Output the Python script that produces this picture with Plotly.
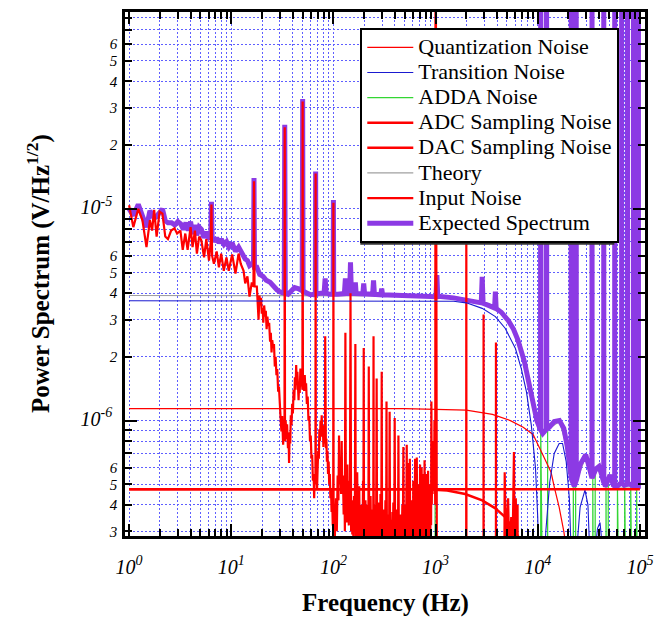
import plotly.graph_objects as go

FONT = "Liberation Serif"

# ---------------- data (frequency Hz, amplitude V/Hz^1/2) ----------------
quantization_noise = [(1, 1.14e-6), (500, 1.14e-6), (1000, 1.13e-6), (2000, 1.12e-6), (3600, 1.07e-6),
                      (5400, 1.0e-6), (7200, 9.3e-7), (9000, 8.6e-7), (1.17e4, 6.6e-7), (1.35e4, 5.7e-7),
                      (1.46e4, 4.8e-7), (1.62e4, 3.9e-7), (1.8e4, 3.0e-7), (2.0e4, 2.1e-7)]

transition_noise = [(1, 3.68e-6), (1500, 3.66e-6), (2000, 3.6e-6), (2860, 3.39e-6), (3850, 3.1e-6),
                    (4800, 2.73e-6), (6050, 2.19e-6), (6900, 1.76e-6), (7750, 1.37e-6), (8660, 9.5e-7),
                    (9500, 6.0e-7), (1.0e4, 3.5e-7), (1.04e4, 1.5e-7), (1.07e4, 1e-9), (1.12e4, 1.6e-7),
                    (1.2e4, 3.0e-7), (1.31e4, 5.1e-7), (1.45e4, 7.0e-7), (1.62e4, 7.8e-7), (1.75e4, 7.8e-7),
                    (1.9e4, 6.4e-7), (2.04e4, 4.3e-7), (2.1e4, 2.8e-7), (2.15e4, 1e-9), (2.4e4, 2.4e-7),
                    (2.6e4, 3.9e-7), (2.9e4, 4.7e-7), (3.1e4, 4.0e-7), (3.25e4, 2.2e-7), (3.3e4, 1e-9),
                    (3.6e4, 2.3e-7), (3.85e4, 3.1e-7), (4.07e4, 3.3e-7), (4.3e4, 2.5e-7), (4.42e4, 1e-9),
                    (1e5, 1e-9)]

adda_noise = [(900, 1e-9), (985, 1e-9), (990, 6.5e-7), (995, 1e-9),
              (1.064e4, 1e-9), (1.07e4, 9.0e-7), (1.076e4, 1e-9),
              (1.243e4, 1e-9), (1.25e4, 9.3e-7), (1.257e4, 1e-9),
              (2.22e4, 1e-9), (2.23e4, 5.0e-7), (2.24e4, 1e-9),
              (2.34e4, 1e-9), (2.35e4, 5.0e-7), (2.36e4, 1e-9),
              (3.44e4, 1e-9), (3.46e4, 5.4e-7), (3.48e4, 1e-9),
              (3.63e4, 1e-9), (3.65e4, 5.8e-7), (3.67e4, 1e-9),
              (4.63e4, 1e-9), (4.66e4, 4.9e-7), (4.69e4, 1e-9),
              (4.87e4, 1e-9), (4.9e4, 5.3e-7), (4.93e4, 1e-9),
              (5.99e4, 1e-9), (6.03e4, 4.9e-7), (6.07e4, 1e-9),
              (7.05e4, 1e-9), (7.1e4, 4.95e-7), (7.15e4, 1e-9),
              (8.08e4, 1e-9), (8.13e4, 5.0e-7), (8.18e4, 1e-9),
              (9.25e4, 1e-9), (9.3e4, 4.9e-7), (9.35e4, 1e-9), (1e5, 1e-9)]

adc_sampling_noise = [(1, 4.74e-7), (1e5, 4.74e-7)]

dac_sampling_noise = [(1, 4.74e-7), (800, 4.74e-7), (1300, 4.68e-7), (1950, 4.5e-7), (2860, 4.2e-7),
                      (3850, 3.85e-7), (4800, 3.5e-7), (5600, 3.15e-7), (6400, 2.85e-7), (8000, 2.2e-7)]

theory = [(1, 3.9e-6), (1000, 3.88e-6), (2000, 3.72e-6), (3000, 3.55e-6), (4400, 3.25e-6), (5800, 2.7e-6),
          (6400, 2.4e-6), (7400, 1.9e-6), (8200, 1.5e-6), (9300, 1.15e-6), (1.04e4, 9.2e-7), (1.12e4, 8.6e-7),
          (1.3e4, 9.2e-7), (1.63e4, 9.9e-7), (1.95e4, 7.4e-7), (2.28e4, 4.8e-7), (2.95e4, 6.8e-7),
          (3.41e4, 5.3e-7), (3.98e4, 6.0e-7), (4.6e4, 4.8e-7), (5.1e4, 5.5e-7), (6e4, 4.8e-7), (1e5, 4.8e-7)]

input_noise = [
    (1.0, 1.04e-5), (1.1, 8.2e-6), (1.23, 1.0e-5), (1.35, 8.85e-6), (1.48, 6.6e-6), (1.6, 8.85e-6),
    (1.68, 7.9e-6), (1.76, 9.9e-6), (1.86, 7.4e-6), (1.99, 9.7e-6), (2.12, 9.5e-6), (2.26, 7.4e-6),
    (2.4, 7.2e-6), (2.58, 7.9e-6), (2.78, 8.1e-6), (2.95, 7.65e-6), (3.18, 7.9e-6), (3.35, 6.4e-6),
    (3.55, 7.65e-6), (3.74, 6.4e-6), (4.0, 8.2e-6), (4.18, 6.6e-6), (4.41, 7.9e-6), (4.61, 6.15e-6),
    (4.85, 7.4e-6), (5.1, 7.1e-6), (5.42, 5.9e-6), (5.7, 7.2e-6), (6.06, 5.7e-6), (6.3, 7.0e-6),
    (6.4, 1.05e-5), (6.5, 6.0e-6), (6.77, 5.5e-6), (7.2, 6.3e-6), (7.57, 5.3e-6), (7.97, 6.15e-6),
    (8.45, 5.1e-6), (8.98, 5.9e-6), (9.45, 5.1e-6), (10.2, 6.1e-6), (11.0, 4.95e-6), (11.8, 6.15e-6),
    (12.4, 5.5e-6), (13.2, 5.1e-6), (13.7, 4.45e-6), (14.4, 4.8e-6), (15.1, 3.85e-6), (15.9, 4.5e-6),
    (16.5, 4.3e-6), (16.7, 1.35e-5), (16.9, 4.3e-6), (17.8, 4.3e-6), (18.2, 3.5e-6), (18.5, 3.0e-6),
    (18.9, 3.9e-6), (19.2, 3.5e-6), (19.6, 3.8e-6), (19.9, 3.2e-6), (20.3, 3.4e-6), (20.6, 2.9e-6),
    (21.0, 3.5e-6), (21.4, 3.1e-6), (21.8, 3.3e-6), (22.2, 2.7e-6), (22.6, 3.1e-6), (23.0, 2.8e-6),
    (23.5, 2.9e-6), (24.0, 2.36e-6), (24.4, 2.6e-6), (24.8, 2.1e-6), (25.2, 2.4e-6), (25.7, 2.2e-6),
    (26.2, 2.3e-6), (26.7, 1.8e-6), (27.2, 2.0e-6), (27.7, 1.64e-6), (28.2, 1.75e-6), (28.8, 1.37e-6),
    (29.3, 1.45e-6), (29.8, 1.14e-6), (30.5, 1.0e-6), (31.0, 8.9e-7), (31.5, 1.05e-6), (32.2, 7.7e-7),
    (32.7, 9.0e-7), (33.2, 8.0e-7), (33.4, 2.43e-5), (33.6, 8.0e-7), (34.1, 1.0e-6), (34.6, 8.2e-7),
    (35.2, 9.6e-7), (35.9, 7.4e-7), (36.4, 8.5e-7), (36.8, 6.3e-7), (37.3, 8.8e-7), (37.8, 7.8e-7),
    (38.3, 1.06e-6), (38.9, 9.5e-7), (39.5, 1.2e-6), (40.1, 1.08e-6), (40.8, 1.4e-6), (41.4, 1.25e-6),
    (42.0, 1.6e-6), (42.6, 1.4e-6), (43.2, 1.83e-6), (43.8, 1.5e-6), (44.4, 1.7e-6), (45.0, 1.4e-6),
    (45.6, 1.25e-6), (46.2, 1.5e-6), (46.8, 1.35e-6), (47.5, 1.76e-6), (48.2, 1.45e-6), (48.9, 1.65e-6),
    (49.7, 1.4e-6), (50.0, 3.22e-5), (50.3, 1.45e-6), (51.0, 1.6e-6), (51.7, 1.38e-6), (52.4, 1.64e-6),
    (53.2, 1.4e-6), (54.0, 1.5e-6), (55.0, 1.2e-6), (56.0, 1.3e-6), (57.0, 1.0e-6), (58.0, 1.05e-6),
    (59.0, 8.0e-7), (60.0, 8.5e-7), (61.0, 6.6e-7), (62.0, 6.9e-7), (63.0, 5.2e-7), (64.0, 5.6e-7),
    (64.8, 4.3e-7), (65.6, 5.5e-7), (66.7, 5.0e-7), (67.0, 1.47e-5), (67.3, 5.0e-7), (68.2, 6.2e-7),
    (69.2, 4.8e-7), (70.1, 6.0e-7), (71.0, 7.2e-7), (72.0, 6.6e-7), (72.9, 9.1e-7), (73.8, 8.0e-7),
    (74.8, 1.0e-6), (75.8, 8.6e-7), (76.8, 1.06e-6), (77.8, 8.4e-7), (78.8, 9.5e-7), (79.8, 7.5e-7),
    (80.8, 9.0e-7), (81.8, 7.8e-7), (82.8, 9.0e-7), (83.1, 2.5e-6), (83.4, 9.0e-7), (84.4, 7.4e-7),
    (85.4, 8.2e-7), (86.4, 6.4e-7), (87.5, 7.2e-7), (88.6, 5.6e-7), (89.8, 6.4e-7), (91.0, 5.0e-7),
    (92.2, 5.6e-7), (93.4, 4.3e-7), (94.7, 4.8e-7), (96.0, 3.7e-7), (97.3, 4.2e-7), (98.6, 3.2e-7),
    (99.6, 3.4e-7), (100, 1.07e-5), (100.4, 3.3e-7),
    (103, 2.7e-7), (106, 4.3e-7), (108, 3.0e-7), (110, 5.5e-7), (112, 4.2e-7), (113.5, 8.5e-7),
    (115, 5.0e-7), (117, 6.5e-7), (119, 4.5e-7), (120.5, 8.0e-7), (122, 4.5e-7), (124, 5.5e-7),
    (126, 3.6e-7), (128, 5.2e-7), (129.5, 3.0e-7), (131, 2.6e-6), (132.5, 3.4e-7), (134, 4.6e-7),
    (135.5, 3.3e-7), (137, 6.2e-7), (138.5, 3.5e-7), (140, 4.8e-7), (141.5, 3.2e-7), (143, 5.2e-7),
    (145, 3.4e-7), (147, 4.0e-6), (149, 3.0e-7), (151, 4.2e-7), (153, 2.9e-7), (155, 3.8e-7),
    (157, 2.7e-7), (159, 4.4e-7), (161, 3.0e-7), (162.5, 4.6e-7), (164, 2.3e-6), (165.5, 2.8e-7),
    (167.5, 4.0e-7), (169.5, 2.8e-7), (171, 5.7e-7), (173, 2.7e-7), (175, 4.2e-7), (177, 2.8e-7),
    (179, 4.9e-7), (181, 2.7e-7), (183, 3.6e-7), (185, 2.6e-7), (187, 4.0e-7), (189, 2.7e-7),
    (191, 3.4e-7), (193, 2.8e-7), (195, 5.2e-7), (196.5, 3.0e-7), (198, 2.2e-6), (199.5, 2.7e-7),
    (202, 3.8e-7), (204, 2.7e-7), (206, 4.2e-7), (208, 2.6e-7), (210.5, 3.5e-7), (213, 2.7e-7),
    (215.5, 4.0e-7), (218, 2.8e-7), (220, 3.2e-7), (222, 1.8e-6), (224, 2.7e-7), (226.5, 3.6e-7),
    (229, 2.6e-7), (231, 4.4e-7), (233.5, 2.7e-7), (236, 3.3e-7), (238.5, 2.6e-7), (241, 3.8e-7),
    (243.5, 2.8e-7), (245.5, 3.2e-7), (247, 2.5e-6), (248.5, 2.7e-7), (251, 3.5e-7), (254, 2.6e-7),
    (256.5, 4.0e-7), (259, 2.7e-7), (262, 3.2e-7), (265, 1.58e-6), (267.5, 2.6e-7), (270.5, 3.6e-7),
    (273.5, 2.7e-7), (276.5, 4.1e-7), (279.5, 2.6e-7), (283, 3.3e-7), (286, 2.7e-7), (289, 4.5e-7),
    (292, 2.8e-7), (294.5, 3.4e-7), (297, 1.7e-6), (299.5, 2.6e-7), (303, 3.6e-7), (306, 2.7e-7),
    (309.5, 3.8e-7), (313, 2.6e-7), (316, 3.3e-7), (319.5, 2.7e-7), (323, 4.2e-7), (326, 2.8e-7),
    (328.5, 3.2e-7), (331, 1.23e-6), (334, 2.6e-7), (337, 3.5e-7), (341, 2.7e-7), (345, 3.6e-7),
    (348, 2.6e-7), (351.5, 3.3e-7), (355, 1.1e-6), (358.5, 2.7e-7), (362, 3.2e-7), (366, 2.6e-7),
    (370, 3.4e-7), (374, 2.7e-7), (378, 3.7e-7), (382, 2.6e-7), (386, 4.1e-7), (390, 2.7e-7),
    (394, 3.3e-7), (398, 1.03e-6), (402, 2.6e-7), (406, 3.5e-7), (410, 2.7e-7), (415, 3.8e-7),
    (420, 2.6e-7), (425, 3.5e-7), (429, 2.7e-7), (433, 8.5e-7), (437, 2.6e-7), (442, 3.4e-7),
    (447, 2.7e-7), (452, 3.6e-7), (457, 2.6e-7), (462, 3.3e-7), (467, 2.7e-7), (473, 4.0e-7),
    (478, 2.6e-7), (484, 7.5e-7), (489, 2.7e-7), (495, 3.4e-7), (500, 2.6e-7), (505, 4.0e-7),
    (510, 2.7e-7), (516, 3.2e-7), (522, 7.7e-7), (527, 2.6e-7), (533, 3.6e-7), (538, 2.7e-7),
    (542, 6.3e-7), (546, 2.6e-7), (551, 3.5e-7), (556, 2.7e-7), (560, 6.6e-7), (565, 2.6e-7),
    (571, 3.2e-7), (577, 2.7e-7), (584, 4.2e-7), (590, 2.6e-7), (597, 3.3e-7), (601, 2.7e-7),
    (605, 5.2e-7), (611, 2.6e-7), (617, 3.4e-7), (623, 2.7e-7), (630, 6.6e-7), (636, 2.6e-7),
    (643, 3.5e-7), (649, 2.7e-7), (655, 6.7e-7), (661, 2.6e-7), (668, 3.3e-7), (674, 2.7e-7),
    (680, 5.0e-7), (686, 2.6e-7), (693, 3.6e-7), (699, 2.7e-7), (705, 6.2e-7), (711, 2.6e-7),
    (718, 3.4e-7), (724, 2.7e-7), (730, 6.0e-7), (737, 2.6e-7), (744, 3.6e-7), (750, 2.7e-7),
    (757, 5.6e-7), (764, 2.6e-7), (772, 3.4e-7), (776, 2.7e-7), (780, 6.5e-7), (787, 2.6e-7),
    (795, 3.5e-7), (802, 2.7e-7), (810, 5.6e-7), (818, 2.6e-7), (826, 3.4e-7), (835, 2.7e-7),
    (845, 5.8e-7), (853, 2.6e-7), (862, 3.6e-7), (871, 2.7e-7), (880, 5.0e-7), (888, 3.0e-7),
    (897, 4.5e-7), (904, 3.2e-7), (910, 1.23e-6), (918, 4.0e-7), (926, 6.0e-7), (935, 4.5e-7),
    (945, 8.0e-7), (953, 5.0e-7), (960, 6.5e-7), (968, 4.8e-7), (975, 1.0e-6), (985, 6.0e-7),
    (993, 4.0e-7), (1000, 1e-3), (1007, 6.0e-7), (1040, 1e-8),
    (1990, 1e-8), (2000, 1.5e-5), (2010, 1e-8),
    (2940, 1e-8), (2950, 3.17e-6), (2960, 1e-8),
    (3890, 1e-8), (3900, 2.34e-6), (3910, 1e-8),
    (4600, 1e-8), (4750, 5.7e-7), (4900, 2.5e-7), (5000, 3.2e-7), (5130, 4.3e-7), (5300, 2.0e-7),
    (5500, 3.5e-7), (5650, 2.2e-7), (5850, 7.1e-7), (5950, 2.0e-7), (6100, 4.3e-7), (6200, 2.5e-7),
    (6350, 4.0e-7), (6500, 1e-8), (1e5, 1e-8)]

expected_spectrum = [
    (1.0, 1.0e-5), (1.1, 9.3e-6), (1.23, 1.05e-5), (1.35, 9.2e-6), (1.48, 8.2e-6), (1.6, 9.8e-6),
    (1.76, 9.0e-6), (1.99, 9.6e-6), (2.12, 1.0e-5), (2.26, 8.8e-6), (2.4, 8.6e-6), (2.6, 8.6e-6),
    (2.8, 8.4e-6), (3.0, 8.7e-6), (3.2, 8.5e-6), (3.4, 8.0e-6), (3.6, 8.6e-6), (3.8, 7.9e-6),
    (4.0, 8.7e-6), (4.2, 7.6e-6), (4.4, 8.4e-6), (4.6, 7.5e-6), (4.85, 8.2e-6), (5.1, 8.0e-6),
    (5.4, 7.3e-6), (5.7, 7.8e-6), (6.06, 7.2e-6), (6.3, 7.5e-6), (6.4, 1.08e-5), (6.5, 7.4e-6),
    (6.8, 7.0e-6), (7.2, 7.3e-6), (7.6, 6.9e-6), (8.0, 7.2e-6), (8.5, 6.8e-6), (9.0, 7.0e-6),
    (9.5, 6.6e-6), (10.2, 6.9e-6), (11.0, 6.3e-6), (11.8, 6.6e-6), (12.4, 6.3e-6), (13.2, 6.0e-6),
    (13.7, 5.8e-6), (14.4, 5.7e-6), (15.1, 5.4e-6), (15.9, 5.5e-6), (16.5, 5.4e-6), (16.7, 1.4e-5),
    (16.9, 5.3e-6), (17.8, 5.3e-6), (19.0, 4.9e-6), (20.5, 4.8e-6), (22.0, 4.6e-6), (24.0, 4.5e-6),
    (26.0, 4.3e-6), (28.0, 4.15e-6), (30.0, 4.05e-6), (33.0, 4.0e-6), (33.4, 2.5e-5), (33.8, 4.0e-6),
    (36.0, 3.95e-6), (38.0, 4.05e-6), (41.7, 4.25e-6), (45.0, 4.2e-6), (49.5, 4.1e-6), (50.0, 3.3e-5),
    (50.5, 4.1e-6), (55.0, 4.0e-6), (60.0, 3.93e-6), (66.5, 3.95e-6), (67.0, 1.5e-5), (67.5, 3.95e-6),
    (75.0, 4.0e-6), (81.0, 4.0e-6), (83.0, 4.7e-6), (85.0, 4.0e-6), (92.0, 3.95e-6), (99.3, 3.95e-6),
    (100, 1.1e-5), (100.7, 3.95e-6), (110, 3.95e-6), (128, 3.98e-6), (131, 4.7e-6), (134, 3.98e-6),
    (144, 3.98e-6), (147, 5.6e-6), (150, 3.98e-6), (161, 3.98e-6), (164, 4.5e-6), (167, 3.98e-6),
    (194, 3.97e-6), (198, 4.45e-6), (202, 3.97e-6), (242, 3.95e-6), (247, 4.6e-6), (252, 3.95e-6),
    (291, 3.93e-6), (297, 4.2e-6), (303, 3.93e-6), (400, 3.9e-6), (700, 3.87e-6), (1010, 3.85e-6),
    (1030, 4.87e-6), (1050, 3.87e-6), (1500, 3.8e-6), (2000, 3.72e-6), (2400, 3.68e-6), (2800, 3.6e-6),
    (2860, 4.77e-6), (2920, 3.58e-6), (3300, 3.5e-6), (3780, 3.4e-6), (3850, 4.07e-6), (3920, 3.38e-6),
    (4400, 3.25e-6), (5200, 2.95e-6), (5800, 2.7e-6), (6400, 2.4e-6), (7400, 1.9e-6), (8200, 1.5e-6),
    (8700, 1.35e-6), (9300, 1.15e-6), (9800, 1.0e-6), (1.04e4, 9.3e-7), (1.065e4, 9.0e-7),
    (1.07e4, 1e-3), (1.075e4, 9.0e-7), (1.12e4, 8.7e-7), (1.215e4, 9.1e-7), (1.22e4, 1e-3),
    (1.225e4, 9.1e-7), (1.3e4, 9.3e-7), (1.45e4, 9.9e-7), (1.63e4, 1.0e-6), (1.8e4, 9.2e-7),
    (1.95e4, 7.5e-7), (2.05e4, 6.0e-7), (2.125e4, 5.4e-7), (2.13e4, 1e-3), (2.135e4, 5.3e-7),
    (2.28e4, 4.9e-7), (2.375e4, 5.2e-7), (2.38e4, 1e-3), (2.385e4, 5.2e-7), (2.6e4, 6.2e-7),
    (2.95e4, 6.9e-7), (3.2e4, 6.0e-7), (3.395e4, 5.35e-7), (3.4e4, 1e-3), (3.405e4, 5.35e-7),
    (3.7e4, 5.9e-7), (3.98e4, 6.07e-7), (4.25e4, 5.5e-7), (4.425e4, 5.1e-7), (4.43e4, 1e-3),
    (4.435e4, 5.1e-7), (4.6e4, 4.9e-7), (5.1e4, 5.54e-7), (5.5e4, 4.95e-7), (5.665e4, 4.9e-7),
    (5.67e4, 1e-3), (5.675e4, 4.9e-7), (6.0e4, 4.9e-7), (6.625e4, 5.1e-7), (6.63e4, 1e-3),
    (6.635e4, 5.1e-7), (7.0e4, 4.95e-7), (7.565e4, 5.0e-7), (7.57e4, 1e-3), (7.575e4, 5.0e-7),
    (8.0e4, 5.0e-7), (8.645e4, 4.9e-7), (8.65e4, 1e-3), (8.655e4, 4.9e-7), (9.2e4, 4.9e-7),
    (9.675e4, 4.9e-7), (9.68e4, 1e-3), (9.685e4, 4.9e-7), (1e5, 4.9e-7)]

x_decade_labels = ["10<sup>0</sup>", "10<sup>1</sup>", "10<sup>2</sup>", "10<sup>3</sup>", "10<sup>4</sup>", "10<sup>5</sup>"]
y_decade_labels = {-6: "10<sup>-6</sup>", -5: "10<sup>-5</sup>"}
y_minor_labels = {2: "2", 3: "3", 4: "4", 5: "5", 6: "6"}

# ---------------- styling ----------------
RED = "#ff0000"
BLUE = "#1a1ad0"
GREEN = "#33d633"
GRAY = "#a0a0a0"
PURPLE = "rgb(140,58,228)"
GRID = "rgb(95,95,255)"

series = [
    # (name, data, color, width, legend rank)  drawing order = list order
    ("ADDA Noise", adda_noise, GREEN, 1.2, 3),
    ("Theory", theory, GRAY, 1.2, 6),
    ("Expected Spectrum", expected_spectrum, PURPLE, 5, 8),
    ("Input Noise", input_noise, RED, 2.2, 7),
    ("Quantization Noise", quantization_noise, RED, 1.2, 1),
    ("Transition Noise", transition_noise, BLUE, 1.1, 2),
    ("ADC Sampling Noise", adc_sampling_noise, RED, 2.5, 4),
    ("DAC Sampling Noise", dac_sampling_noise, RED, 2.5, 5),
]

fig = go.Figure()
for name, data, color, width, rank in series:
    xs = [p[0] for p in data]
    ys = [p[1] for p in data]
    fig.add_trace(go.Scatter(
        x=xs, y=ys, mode="lines", name='<span style="font-size:22px">' + name + "</span>",
        line=dict(color=color, width=width), legendrank=rank, hoverinfo="skip"))

# empty trace on an overlay y axis that only carries the long decade ticks
fig.add_trace(go.Scatter(x=[], y=[], xaxis="x", yaxis="y2", showlegend=False))

# tick positions: labelled (major) and unlabelled (minor)
xt, xtt, xminor = [], [], []
for d in range(0, 6):
    xt.append(10 ** d)
    xtt.append(x_decade_labels[d])
    if d < 5:
        for m in range(2, 10):
            xminor.append(m * 10 ** d)

yt, ytt, yminor = [], [], []
for d in (-7, -6, -5):
    for m in range(1, 10):
        v = m * 10.0 ** d
        if v < 2.8e-7 or v > 9e-5:
            continue
        if m == 1:
            yt.append(v)
            ytt.append('<span style="font-size:20px">' + y_decade_labels[d] + "\u00a0</span>")
        elif m in y_minor_labels:
            yt.append(v)
            ytt.append(y_minor_labels[m])
        else:
            yminor.append(v)

XR = [-0.04, 5.05]
YR = [-6.545, -4.07]

grid_style = dict(showgrid=True, gridcolor=GRID, gridwidth=1, griddash="2px,2px")
axis_common = dict(type="log", showline=True, linewidth=2.5, linecolor="black", mirror="ticks",
                   ticks="inside", tickwidth=1.5, tickcolor="black", zeroline=False, **grid_style)

fig.update_layout(
    width=662, height=619, autosize=False,
    margin=dict(l=125, r=11, t=9, b=83),
    paper_bgcolor="white", plot_bgcolor="white",
    font=dict(family=FONT, color="black"),
    xaxis=dict(range=XR, tickmode="array", tickvals=xt, ticktext=xtt, ticklen=12, ticklabelstandoff=11,
               tickfont=dict(family=FONT, size=20, color="black", style="italic"),
               minor=dict(tickmode="array", tickvals=xminor, ticks="inside", ticklen=7, tickwidth=1.5,
                          tickcolor="black", **grid_style),
               **axis_common),
    yaxis=dict(range=YR, tickmode="array", tickvals=yt, ticktext=ytt, ticklen=7, ticklabelstandoff=2,
               tickfont=dict(family=FONT, size=15, color="black", style="italic"),
               minor=dict(tickmode="array", tickvals=yminor, ticks="inside", ticklen=7, tickwidth=1.5,
                          tickcolor="black", **grid_style),
               **axis_common),
    yaxis2=dict(type="log", range=YR, overlaying="y", anchor="x", side="left", tickmode="array",
                tickvals=[1e-6, 1e-5], ticks="inside", ticklen=12, tickwidth=2, tickcolor="black",
                mirror="ticks", showticklabels=False, showgrid=False, zeroline=False, showline=False),
    legend=dict(x=(363 - 125) / 526, y=(536 - 25) / 527, xanchor="left", yanchor="top",
                bgcolor="white", bordercolor="black", borderwidth=2,
                font=dict(family=FONT, size=17, color="black"), itemwidth=46, tracegroupgap=0),
    shapes=[dict(type="rect", xref="paper", yref="paper", layer="above",
                 x0=(363 - 125) / 526, x1=(620 - 125) / 526, y0=(536 - 243) / 527, y1=(536 - 31) / 527,
                 fillcolor="#333333", line=dict(width=0))],
    annotations=[
        dict(text="Frequency (Hz)", xref="paper", yref="paper", x=0.5, y=-(603 - 536) / 527,
             xanchor="center", yanchor="middle", showarrow=False,
             font=dict(family=FONT, size=25, weight="bold")),
        dict(text="Power Spectrum (V/Hz<sup>1/2</sup>)", xref="paper", yref="paper",
             x=(37 - 125) / 526, y=0.5, xanchor="center", yanchor="middle",
             textangle=-90, showarrow=False, font=dict(family=FONT, size=25, weight="bold")),
    ],
)

fig.write_html("out.html", config={"displayModeBar": False})
